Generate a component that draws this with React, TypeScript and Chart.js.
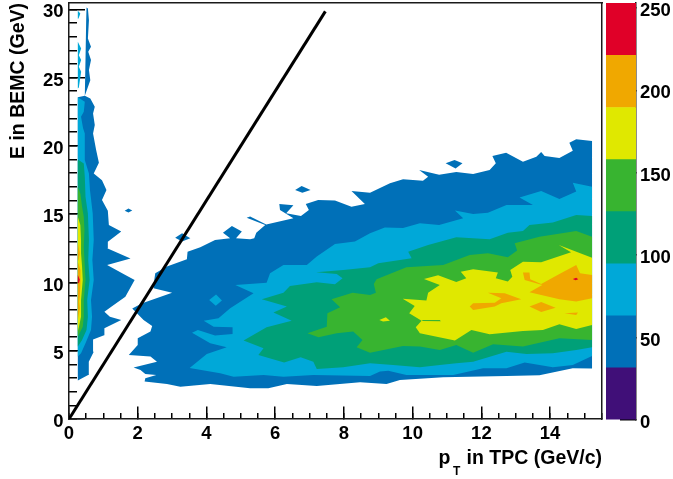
import React, { useEffect, useRef } from "react";
import { Chart, registerables } from "chart.js";

Chart.register(...registerables);

type P = [number, number];

const xMajorTicks = [0, 2, 4, 6, 8, 10, 12, 14];
const yMajorTicks = [0, 5, 10, 15, 20, 25, 30];
const xMinorTicks = [0, 0.5, 1, 1.5, 2, 2.5, 3, 3.5, 4, 4.5, 5, 5.5, 6, 6.5, 7, 7.5, 8, 8.5, 9, 9.5, 10, 10.5, 11, 11.5, 12, 12.5, 13, 13.5, 14, 14.5, 15, 15.5];
const yMinorTicks = [0, 1, 2, 3, 4, 5, 6, 7, 8, 9, 10, 11, 12, 13, 14, 15, 16, 17, 18, 19, 20, 21, 22, 23, 24, 25, 26, 27, 28, 29, 30];
const colorTicks = [0, 50, 100, 150, 200, 250];
const bandSizes = [31.6, 31.6, 31.6, 31.6, 31.6, 31.6, 31.6, 31.8];
const bandNames = ["0-32", "32-63", "63-95", "95-126", "126-158", "158-190", "190-221", "221-253"];
const diagonal: P[] = [[0, 0], [7.46, 29.85]];

const blueSpike: P[] = [[0.257, 2.81], [0.557, 3.22], [0.576, 4.2], [0.72, 4.93], [0.7, 5.83], [1.04, 6.15], [1.03, 6.64], [1.52, 7.25], [1.19, 7.49], [1.03, 7.86], [1.21, 8.18], [1.64, 8.96], [1.91, 10.18], [1.64, 10.54], [1.11, 11.28], [1.79, 11.76], [1.11, 12.5], [1.13, 12.98], [1.52, 13.72], [1.16, 14.2], [1.13, 15.25], [0.96, 16.03], [1.09, 16.76], [0.96, 17.49], [0.72, 17.98], [0.87, 18.76], [0.79, 19.69], [0.7, 20.91], [0.75, 21.52], [0.7, 22.37], [0.75, 22.86], [0.62, 23.47], [0.46, 23.67], [0.62, 24.81], [0.58, 25.55], [0.64, 26.28], [0.56, 26.89], [0.64, 27.25], [0.55, 27.86], [0.58, 29.2], [0.55, 30.06], [0.51, 30.13], [0.5, 29.2], [0.49, 27.74], [0.48, 26.28], [0.46, 23.67], [0.257, 23.55]];
const blueBody: P[] = [[2.2, 2.74], [2.22, 2.98], [2.54, 3.22], [2.22, 3.3], [2.08, 3.59], [1.88, 3.78], [2.56, 4.2], [2.37, 4.57], [1.74, 4.69], [2.0, 5.42], [2.0, 5.91], [2.37, 6.4], [2.42, 6.81], [2.17, 7.25], [1.84, 8.1], [2.13, 8.47], [3.0, 9.25], [2.46, 9.57], [2.46, 9.81], [2.51, 10.67], [2.85, 11.16], [3.43, 11.69], [3.45, 12.25], [3.82, 12.57], [4.25, 13.11], [4.69, 13.23], [4.48, 13.64], [4.74, 14.13], [5.03, 13.72], [4.86, 13.23], [5.27, 13.16], [5.39, 13.23], [5.45, 13.64], [5.71, 14.21], [5.17, 14.74], [5.27, 14.82], [5.74, 14.25], [6.53, 14.69], [6.14, 15.3], [6.12, 15.74], [6.53, 15.65], [6.32, 15.06], [6.75, 14.86], [6.98, 15.3], [6.89, 15.74], [7.25, 16.04], [7.74, 15.99], [8.22, 15.55], [8.61, 15.74], [8.22, 16.69], [8.76, 16.57], [9.34, 17.26], [9.72, 17.55], [10.3, 17.45], [10.45, 17.74], [10.19, 18.23], [10.77, 17.89], [11.27, 18.09], [11.76, 17.94], [12.24, 18.23], [12.42, 18.72], [12.32, 19.26], [12.72, 19.5], [13.21, 18.84], [13.6, 19.21], [13.74, 19.55], [13.84, 19.26], [14.27, 19.11], [14.66, 19.65], [14.56, 20.23], [14.76, 20.48], [15.22, 20.35], [15.22, 3.69], [14.66, 3.71], [13.69, 3.2], [12.73, 3.15], [10.89, 3.06], [9.63, 2.86], [9.24, 2.57], [8.47, 2.69], [7.21, 2.42], [6.34, 2.57], [5.8, 2.25], [5.27, 2.25], [4.11, 2.57], [3.24, 2.37], [2.85, 2.57]];
const blueIslandA: P[] = [[6.58, 16.77], [6.77, 17.06], [7.03, 16.77], [6.79, 16.57]];
const blueIslandB: P[] = [[10.96, 18.72], [11.22, 18.96], [11.45, 18.72], [11.25, 18.35]];
const blueIslandC: P[] = [[3.09, 13.28], [3.29, 13.6], [3.53, 13.23], [3.29, 12.99]];
const blueIslandD: P[] = [[1.62, 15.24], [1.73, 15.42], [1.84, 15.26], [1.73, 15.12]];

const skySpike: P[] = [[0.257, 23.55], [0.46, 23.23], [0.43, 22.5], [0.35, 22.13], [0.41, 21.28], [0.46, 20.91], [0.46, 18.96], [0.58, 17.98], [0.61, 16.76], [0.69, 15.05], [0.72, 13.11], [0.68, 11.64], [0.72, 10.18], [0.64, 8.71], [0.67, 7.49], [0.64, 6.52], [0.48, 5.54], [0.35, 4.81], [0.257, 4.57]];
const skyTopA: P[] = [[0.257, 29.89], [0.33, 29.69], [0.276, 29.33], [0.257, 29.3]];
const skyTopB: P[] = [[0.257, 27.62], [0.354, 27.13], [0.286, 26.64], [0.354, 26.28], [0.286, 25.79], [0.354, 25.42], [0.286, 24.28], [0.257, 24.2]];
const skyBody: P[] = [[3.51, 3.74], [4.01, 4.76], [4.59, 5.25], [4.11, 5.54], [3.58, 6.32], [3.75, 6.52], [4.25, 6.11], [4.76, 6.23], [4.76, 6.72], [4.21, 6.76], [3.92, 7.2], [4.35, 7.37], [4.69, 8.11], [5.37, 9.2], [4.84, 9.81], [5.75, 9.98], [5.85, 10.67], [6.24, 11.28], [6.92, 11.28], [7.21, 11.89], [7.74, 12.82], [8.32, 12.99], [8.76, 13.6], [9.19, 14.03], [9.72, 13.99], [10.21, 14.33], [10.77, 14.21], [11.47, 14.69], [11.23, 15.26], [11.76, 15.01], [12.19, 15.11], [12.73, 15.67], [13.5, 15.67], [13.11, 16.21], [13.74, 16.69], [14.27, 16.11], [14.76, 16.65], [14.66, 17.3], [15.22, 17.01], [15.22, 4.62], [14.66, 3.96], [14.08, 3.79], [13.26, 4.13], [12.73, 3.71], [12.05, 3.71], [11.18, 3.23], [9.82, 3.23], [9.29, 3.54], [9.05, 3.47], [8.76, 3.15], [7.11, 3.23], [6.24, 3.1], [5.66, 3.23], [4.79, 3.1], [4.4, 3.35]];
const skyIsland: P[] = [[4.08, 8.72], [4.28, 9.11], [4.45, 8.67], [4.27, 8.3]];

const tealSpike: P[] = [[0.257, 19.0], [0.43, 18.71], [0.46, 17.74], [0.48, 16.27], [0.55, 15.05], [0.58, 13.11], [0.56, 11.64], [0.6, 10.18], [0.53, 8.71], [0.55, 7.49], [0.51, 6.52], [0.38, 5.79], [0.257, 5.3]];
const tealBody: P[] = [[5.08, 5.74], [5.75, 6.71], [6.48, 7.2], [5.95, 7.79], [6.34, 8.23], [5.61, 8.76], [6.24, 9.25], [6.43, 9.74], [7.21, 10.01], [7.74, 9.86], [7.96, 10.3], [7.79, 10.62], [7.19, 10.74], [7.98, 10.91], [8.76, 11.11], [9.0, 11.4], [9.97, 11.77], [9.87, 12.25], [10.45, 12.74], [11.27, 13.3], [12.24, 13.16], [12.77, 13.64], [13.21, 13.77], [13.4, 14.21], [14.08, 14.38], [14.76, 14.94], [15.22, 14.86], [15.22, 5.25], [14.76, 5.06], [14.08, 4.81], [13.31, 4.76], [12.73, 4.93], [11.76, 4.2], [11.27, 4.08], [10.79, 3.96], [10.21, 3.79], [9.43, 3.96], [8.76, 4.08], [7.98, 3.79], [7.21, 3.67], [7.11, 4.2], [6.74, 4.52], [6.26, 4.13], [5.51, 4.69], [5.66, 5.18]];

const greenSpike: P[] = [[0.257, 17.0], [0.33, 16.52], [0.38, 15.54], [0.43, 14.81], [0.45, 13.84], [0.43, 12.62], [0.45, 11.64], [0.48, 10.18], [0.43, 8.71], [0.43, 7.49], [0.4, 6.76], [0.257, 6.03]];
const greenBody: P[] = [[6.94, 6.28], [7.5, 6.76], [7.52, 7.74], [7.89, 8.18], [7.64, 8.76], [8.25, 9.25], [8.76, 9.08], [8.93, 9.25], [8.87, 9.89], [8.95, 10.23], [9.82, 11.11], [10.89, 11.28], [11.66, 12.01], [12.19, 12.13], [12.77, 11.84], [13.04, 12.33], [12.97, 12.86], [13.69, 13.35], [14.76, 13.77], [15.22, 13.35], [15.22, 5.79], [14.27, 5.91], [13.21, 5.3], [12.34, 5.47], [11.76, 4.86], [11.27, 5.42], [10.79, 5.06], [10.21, 5.3], [9.72, 5.35], [8.76, 4.86], [8.37, 5.25], [8.54, 5.79], [8.27, 6.4], [7.79, 6.28], [7.26, 5.98]];
const greenSliver: P[] = [[10.26, 7.25], [10.79, 7.25], [10.82, 7.15], [10.3, 7.18]];

const yellowSpike: P[] = [[0.257, 14.81], [0.33, 14.2], [0.35, 13.11], [0.35, 12.13], [0.38, 11.15], [0.4, 10.18], [0.35, 8.71], [0.35, 7.49], [0.31, 7.0], [0.257, 6.4]];
const yellowBody: P[] = [[9.71, 8.81], [10.4, 8.67], [10.45, 9.25], [10.79, 9.81], [10.33, 10.25], [10.74, 10.52], [11.27, 10.03], [11.56, 10.3], [11.4, 10.79], [11.76, 10.96], [12.48, 10.72], [12.42, 10.3], [12.77, 10.06], [12.9, 10.42], [12.84, 10.91], [13.21, 11.52], [13.74, 11.47], [14.61, 12.21], [14.25, 12.74], [15.22, 11.81], [15.22, 6.89], [14.76, 6.59], [14.27, 6.93], [13.79, 6.52], [13.21, 6.45], [12.24, 6.2], [11.71, 6.52], [11.23, 5.74], [10.21, 6.28], [10.09, 6.71], [10.26, 7.2], [9.9, 7.74], [10.06, 8.28]];
const yellowSpot: P[] = [[9.03, 7.25], [9.22, 7.45], [9.34, 7.2], [9.14, 7.13]];

const orangeSpike: P[] = [[0.257, 12.86], [0.315, 12.13], [0.29, 11.76], [0.257, 11.52], [0.334, 10.91], [0.334, 9.93], [0.315, 8.96], [0.29, 8.6], [0.315, 8.1], [0.257, 7.25]];
const orangeMain: P[] = [[13.4, 9.28], [13.77, 9.81], [13.26, 10.18], [13.21, 10.72], [13.4, 10.72], [13.42, 10.23], [13.74, 9.89], [14.27, 10.62], [14.76, 11.28], [14.87, 10.67], [15.22, 10.55], [15.22, 8.84], [14.76, 8.6], [14.27, 8.76]];
const orangeBranch: P[] = [[12.19, 9.25], [12.68, 9.2], [13.16, 8.76], [12.58, 8.47], [12.39, 8.23], [11.76, 7.98], [11.66, 8.23], [11.76, 8.47], [12.39, 8.52], [12.58, 8.84]];
const orangeDiamond: P[] = [[13.4, 8.23], [13.74, 8.57], [14.16, 8.15], [13.74, 7.84]];
const orangeSliver: P[] = [[14.42, 7.74], [14.81, 7.79], [14.76, 7.62]];

const redSpike: P[] = [[0.257, 10.54], [0.315, 10.2], [0.29, 9.98], [0.257, 9.93]];
const redDot: P[] = [[14.66, 10.25], [14.76, 10.35], [14.82, 10.23], [14.74, 10.16]];

const PURPLE = "#400f78";
const BLUE = "#0070b8";
const SKY = "#00a8d8";
const TEAL = "#00a078";
const GREEN = "#38b430";
const YELLOW = "#e0e800";
const ORANGE = "#f0a800";
const RED = "#e00028";
const bandColors = [PURPLE, BLUE, SKY, TEAL, GREEN, YELLOW, ORANGE, RED];

const layers: [P[], string][] = [
  [blueSpike, BLUE], [blueBody, BLUE], [blueIslandA, BLUE], [blueIslandB, BLUE], [blueIslandC, BLUE], [blueIslandD, BLUE],
  [skySpike, SKY], [skyTopA, SKY], [skyTopB, SKY], [skyBody, SKY], [skyIsland, SKY],
  [tealSpike, TEAL], [tealBody, TEAL],
  [greenSpike, GREEN], [greenBody, GREEN],
  [yellowSpike, YELLOW], [yellowBody, YELLOW], [yellowSpot, YELLOW], [greenSliver, GREEN],
  [orangeSpike, ORANGE], [orangeMain, ORANGE], [orangeBranch, ORANGE], [orangeDiamond, ORANGE], [orangeSliver, ORANGE],
  [redSpike, RED], [redDot, RED],
];

const FONT = "'Liberation Sans', Arial, sans-serif";
const tickFont = { family: FONT, size: 18.5, weight: "bold" as const };
const titleFont = { family: FONT, size: 19.5, weight: "bold" as const };
const FRAME = "#1a1a1a";
const XMAX = 15.51;
const YMAX = 30.46;
const CMAX = 253;

const setTicks = (vals: number[]) => (scale: any) => {
  scale.ticks = vals.map((value) => ({ value }));
};
const noPadding = (s: any) => {
  s.paddingTop = 0;
  s.paddingBottom = 0;
  s.paddingLeft = 0;
  s.paddingRight = 0;
};

const subscriptT = {
  id: "subscriptT",
  afterDraw(chart: any) {
    const { ctx, scales } = chart;
    ctx.save();
    ctx.font = `bold 12px ${FONT}`;
    ctx.fillStyle = "#000";
    ctx.textAlign = "left";
    ctx.textBaseline = "alphabetic";
    ctx.fillText("T", scales.x.right - 149, scales.x.bottom - 4);
    ctx.restore();
  },
};

export default function App() {
  const mainRef = useRef<HTMLCanvasElement>(null);
  const barRef = useRef<HTMLCanvasElement>(null);

  useEffect(() => {
    const layerSets = layers.map(([poly, color], i) => ({
      type: "scatter" as const,
      data: poly.map(([x, y]) => ({ x, y })),
      showLine: true,
      fill: "shape",
      backgroundColor: color,
      borderColor: "transparent",
      borderWidth: 0,
      pointRadius: 0,
      order: layers.length - i + 1,
    }));
    const main = new Chart(mainRef.current!, {
      type: "scatter",
      data: {
        datasets: [
          ...layerSets,
          {
            type: "scatter" as const,
            data: diagonal.map(([x, y]) => ({ x, y })),
            showLine: true,
            fill: false,
            borderColor: "#000",
            borderWidth: 3,
            pointRadius: 0,
            order: 0,
          },
        ] as any,
      },
      plugins: [subscriptT],
      options: {
        animation: false,
        responsive: false,
        layout: { padding: { left: 0, right: 71, top: 3, bottom: 0 } },
        plugins: { legend: { display: false }, tooltip: { enabled: false }, title: { display: false } },
        scales: {
          x: {
            type: "linear",
            min: 0,
            max: XMAX,
            afterBuildTicks: setTicks(xMajorTicks),
            afterFit: (s: any) => { s.height = 60; noPadding(s); },
            grid: { drawOnChartArea: false, tickLength: -12.5, color: "#000", lineWidth: 1.5 },
            border: { display: true, color: FRAME, width: 1.5 },
            ticks: { color: "#000", font: tickFont, padding: 16, maxRotation: 0, autoSkip: false },
            title: { display: true, text: "p   in TPC (GeV/c)", align: "end", color: "#000", font: titleFont, padding: { top: 0, bottom: 9 } },
          },
          y: {
            type: "linear",
            min: 0,
            max: YMAX,
            afterBuildTicks: setTicks(yMajorTicks),
            afterFit: (s: any) => { s.width = 69; noPadding(s); },
            grid: { drawOnChartArea: false, tickLength: -16, color: "#000", lineWidth: 1.5 },
            border: { display: true, color: FRAME, width: 1.5 },
            ticks: { color: "#000", font: tickFont, padding: 21.5, labelOffset: 3, autoSkip: false },
            title: { display: true, text: "E in BEMC (GeV)", align: "end", color: "#000", font: titleFont, padding: { top: 7, bottom: 0 } },
          },
          xMinor: {
            type: "linear",
            axis: "x",
            min: 0,
            max: XMAX,
            position: { y: 0 },
            afterBuildTicks: setTicks(xMinorTicks),
            afterFit: noPadding,
            grid: { drawOnChartArea: false, tickLength: -6, color: "#000", lineWidth: 1.5 },
            border: { display: false },
            ticks: { display: false, autoSkip: false },
          },
          yMinor: {
            type: "linear",
            axis: "y",
            min: 0,
            max: YMAX,
            position: { x: 0 },
            afterBuildTicks: setTicks(yMinorTicks),
            afterFit: noPadding,
            grid: { drawOnChartArea: false, tickLength: -8, color: "#000", lineWidth: 1.5 },
            border: { display: false },
            ticks: { display: false, autoSkip: false },
          },
          xTop: {
            type: "linear",
            axis: "x",
            min: 0,
            max: XMAX,
            position: { y: YMAX },
            afterFit: noPadding,
            grid: { display: false },
            border: { display: true, color: FRAME, width: 1.5 },
            ticks: { display: false },
          },
          yRight: {
            type: "linear",
            axis: "y",
            min: 0,
            max: YMAX,
            position: { x: XMAX },
            afterFit: noPadding,
            grid: { display: false },
            border: { display: true, color: FRAME, width: 1.5 },
            ticks: { display: false },
          },
        } as any,
      },
    });

    const bar = new Chart(barRef.current!, {
      type: "bar",
      data: {
        labels: [""],
        datasets: bandSizes.map((v, i) => ({
          label: bandNames[i],
          data: [v],
          backgroundColor: bandColors[i],
          borderWidth: 0,
          barPercentage: 1,
          categoryPercentage: 1,
          stack: "palette",
        })),
      },
      options: {
        animation: false,
        responsive: false,
        layout: { padding: { left: 6, right: 0, top: 3, bottom: 59 } },
        plugins: { legend: { display: false }, tooltip: { enabled: false }, title: { display: false } },
        scales: {
          x: { stacked: true, display: false },
          y: {
            stacked: true,
            position: "right",
            min: 0,
            max: CMAX,
            afterBuildTicks: setTicks(colorTicks),
            afterFit: (s: any) => { s.width = 37; noPadding(s); },
            grid: { drawOnChartArea: false, tickLength: -16, color: "#000", lineWidth: 1.5 },
            border: { display: true, color: FRAME, width: 1.5 },
            ticks: { color: "#000", font: tickFont, padding: 20, labelOffset: 3, autoSkip: false },
          },
        } as any,
      },
    });

    return () => {
      main.destroy();
      bar.destroy();
    };
  }, []);

  return (
    <div style={{ position: "absolute", left: 0, top: 0, width: 673, height: 479, overflow: "hidden", background: "#fff" }}>
      <canvas ref={mainRef} width={673} height={479} style={{ position: "absolute", left: 0, top: 0, display: "block" }} />
      <canvas ref={barRef} width={73} height={479} style={{ position: "absolute", left: 600, top: 0, display: "block" }} />
    </div>
  );
}
